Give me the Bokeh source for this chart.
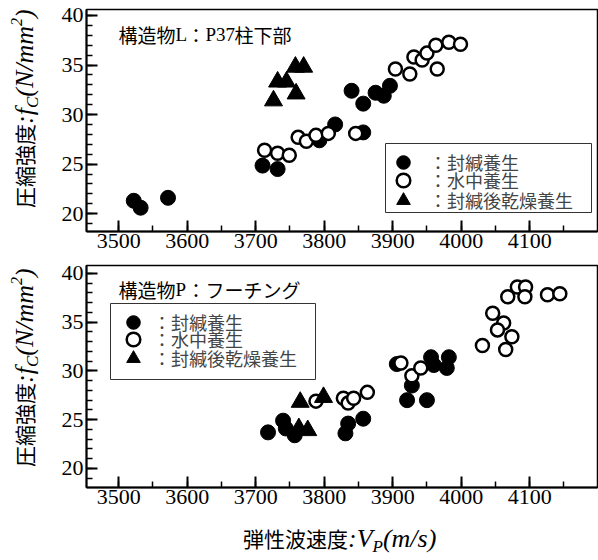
import math
from bokeh.plotting import figure
from bokeh.layouts import column, row
from bokeh.models import Range1d, SingleIntervalTicker, Legend, LegendItem, Label, BoxAnnotation, Div
from bokeh.embed import file_html
from bokeh.resources import INLINE

# ---------------- data ----------------
# Structure L (top panel)
L_sealed_v = [3522, 3532, 3572, 3710, 3732, 3793, 3816, 3840, 3857, 3875, 3887, 3896, 3857]
L_sealed_f = [21.3, 20.6, 21.6, 24.85, 24.5, 27.4, 29.0, 32.4, 31.1, 32.2, 31.9, 32.9, 28.2]
L_water_v = [3713, 3732, 3749, 3762, 3774, 3788, 3806, 3846, 3904, 3925, 3931, 3943, 3950, 3963, 3965, 3982, 3999]
L_water_f = [26.4, 26.1, 25.9, 27.7, 27.3, 27.9, 28.1, 28.1, 34.6, 34.1, 35.8, 35.5, 36.2, 37.0, 34.6, 37.3, 37.1]
L_dry_v = [3726, 3732, 3745, 3759, 3758, 3770]
L_dry_f = [31.4, 33.3, 33.3, 32.1, 34.8, 34.8]

# Structure P (bottom panel)
P_sealed_v = [3718, 3740, 3744, 3757, 3831, 3835, 3857, 3921, 3950, 3928, 3956, 3960, 3982, 3979, 3906]
P_sealed_f = [23.7, 24.9, 24.1, 23.4, 23.6, 24.6, 25.1, 27.0, 27.0, 28.5, 31.4, 30.6, 31.4, 30.3, 30.7]
P_water_v = [3788, 3828, 3835, 3843, 3863, 3912, 3928, 3941, 4031, 4046, 4062, 4053, 4074, 4065,
             4068, 4082, 4094, 4093, 4126, 4144]
P_water_f = [26.9, 27.2, 26.7, 27.2, 27.8, 30.8, 29.5, 30.3, 32.6, 35.9, 34.9, 34.2, 33.5, 32.2,
             37.6, 38.6, 38.6, 37.6, 37.8, 37.9]
P_dry_v = [3765, 3799, 3763, 3776]
P_dry_f = [26.8, 27.3, 24.1, 23.9]

legend_labels = ["：封緘養生", "：水中養生", "：封緘後乾燥養生"]
x_ticks_interval = 100
y_ticks_interval = 5

JP = "Noto Sans CJK JP"
SERIF = "Liberation Serif"


def make_fig(frame_h, mbt, mbb, yr):
    p = figure(frame_width=511, frame_height=frame_h,
               x_range=Range1d(3453, 4199), y_range=Range1d(*yr),
               output_backend="svg", toolbar_location=None,
               min_border_left=27, min_border_right=2,
               min_border_top=mbt, min_border_bottom=mbb)
    p.xgrid.visible = False
    p.ygrid.visible = False
    p.outline_line_color = "black"
    p.outline_line_width = 1.5
    p.outline_line_alpha = 1.0
    p.xaxis.ticker = SingleIntervalTicker(interval=x_ticks_interval, num_minor_ticks=2)
    p.yaxis.ticker = SingleIntervalTicker(interval=y_ticks_interval, num_minor_ticks=5)
    for ax in (p.xaxis, p.yaxis):
        ax.axis_line_width = 2
        ax.major_tick_in = 11
        ax.major_tick_out = 0
        ax.minor_tick_in = 6
        ax.minor_tick_out = 0
        ax.major_tick_line_width = 2
        ax.minor_tick_line_width = 1.5
        ax.major_label_text_font = SERIF
        ax.major_label_text_font_size = "22px"
        ax.major_label_text_color = "black"
    p.xaxis.major_label_standoff = 2
    p.yaxis.major_label_standoff = 3
    return p


def draw(p, sv, sf, wv, wf, dv, df):
    r1 = p.scatter(sv, sf, marker="circle", size=15, fill_color="black", line_color="black")
    r2 = p.scatter(wv, wf, marker="circle", size=13, fill_color="white", line_color="black", line_width=2.5)
    r3 = p.scatter(dv, df, marker="triangle", size=18, fill_color="black", line_color="black")
    return [r1, r2, r3]


def lab(p, text, x, y, font, size, style="normal"):
    p.add_layout(Label(x=x, y=y, x_units="screen", y_units="screen", text=text,
                       text_font=font, text_font_size=f"{size}px", text_font_style=style,
                       text_align="left", text_baseline="alphabetic",
                       text_color="black"))


def add_legend(p, rs, gx, row_ys, standoff, box):
    left, right, top, bottom = box
    p.add_layout(BoxAnnotation(left=left, right=right, top=top, bottom=bottom,
                               left_units="screen", right_units="screen",
                               top_units="screen", bottom_units="screen",
                               fill_color="white", fill_alpha=1.0,
                               line_color="#333333", line_width=1, line_alpha=1.0))
    for t, r, y in zip(legend_labels, rs, row_ys):
        lg = Legend(items=[LegendItem(label=t, renderers=[r])], location=(gx, y),
                    glyph_width=34, glyph_height=34, label_height=34,
                    spacing=0, padding=0, margin=0, label_standoff=standoff,
                    label_text_font=JP, label_text_font_size="18px",
                    label_text_baseline="middle",
                    border_line_color=None, background_fill_alpha=0.0)
        p.add_layout(lg, "center")


def ylabel_html(height, top):
    return (
        f'<div style="position:relative;width:58px;height:{height}px;">'
        f'<div style="position:absolute;left:12px;top:{top}px;transform:rotate(-90deg);'
        'transform-origin:0 0;white-space:nowrap;line-height:1;color:black;">'
        f'<span style="font-family:\'{JP}\';font-size:21px;">圧縮強度</span>'
        f'<span style="font-family:\'{SERIF}\';font-style:italic;font-size:26px;">:f'
        '<span style="font-size:17px;vertical-align:-5px;line-height:0;">C</span>'
        '(N/mm<span style="font-size:16px;vertical-align:11px;line-height:0;">2</span>)</span>'
        '</div></div>'
    )


# ---------------- top panel ----------------
p1 = make_fig(222, 9, 30, (18.2, 40.6))
rs1 = draw(p1, L_sealed_v, L_sealed_f, L_water_v, L_water_f, L_dry_v, L_dry_f)
add_legend(p1, rs1, 300, [52, 34, 14], 9, (299, 505, 88, 19))
lab(p1, "構造物", 32, 197, JP, 19)
lab(p1, "L", 89, 197, SERIF, 19)
lab(p1, "：", 100, 197, JP, 19)
lab(p1, "P37", 119, 197, SERIF, 19)
lab(p1, "柱下部", 148, 197, JP, 19)

# ---------------- bottom panel ----------------
p2 = make_fig(222, 4, 30, (18.05, 40.8))
rs2 = draw(p2, P_sealed_v, P_sealed_f, P_water_v, P_water_f, P_dry_v, P_dry_f)
add_legend(p2, rs2, 30, [148, 131, 112], 3, (24, 229, 184, 108))
lab(p2, "構造物", 32, 198, JP, 19)
lab(p2, "P", 89, 198, SERIF, 19)
lab(p2, "：フーチング", 100, 198, JP, 19)

h1 = 9 + 222 + 30
h2 = 4 + 222 + 30
dy1 = Div(text=ylabel_html(h1, 208), width=58, height=h1, margin=0)
dy2 = Div(text=ylabel_html(h2, 206), width=58, height=h2, margin=0)

xlabel = (
    '<div style="position:relative;width:598px;height:40px;">'
    '<div style="position:absolute;left:243px;top:9px;white-space:nowrap;line-height:1;color:black;">'
    f'<span style="font-family:\'{JP}\';font-size:21px;">弾性波速度</span>'
    f'<span style="font-family:\'{SERIF}\';font-style:italic;font-size:26px;">:V'
    '<span style="font-size:17px;vertical-align:-5px;line-height:0;">P</span>(m/s)</span>'
    '</div></div>'
)
dx = Div(text=xlabel, width=598, height=40, margin=0)

layout = column(row(dy1, p1), row(dy2, p2), dx)
open("out.html", "w").write(file_html(layout, INLINE))
